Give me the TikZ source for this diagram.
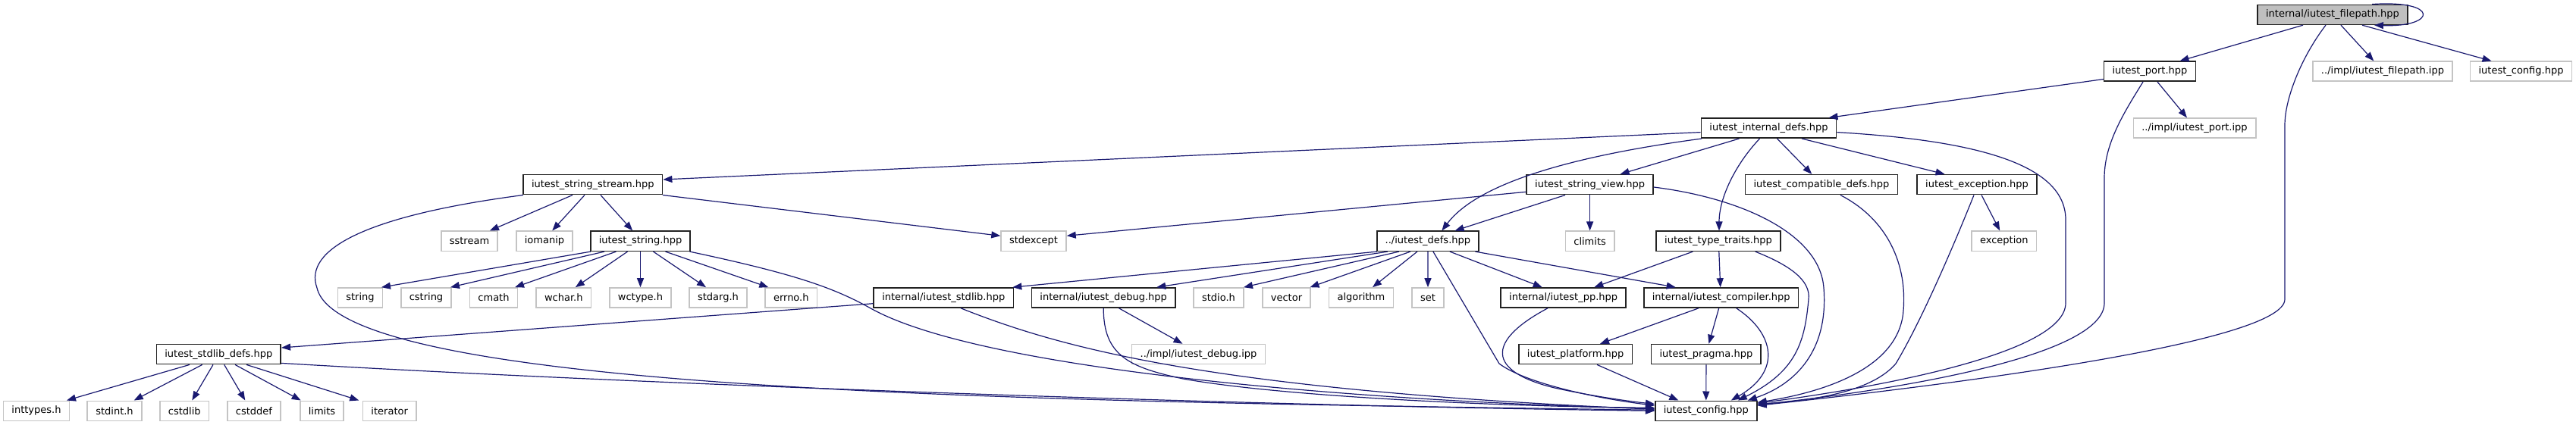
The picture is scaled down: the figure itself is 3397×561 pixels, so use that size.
\documentclass[tikz,border=0pt]{standalone}
\usepackage{fontspec}
\setmainfont{DejaVu Sans}
\usetikzlibrary{arrows.meta}
\definecolor{edgecol}{HTML}{191970}
\definecolor{docb}{HTML}{222222}
\definecolor{extb}{HTML}{C4C4C4}
\definecolor{mainfill}{HTML}{BFBFBF}
\tikzset{
  box/.style={minimum height=26pt, inner xsep=11pt, inner ysep=0pt, line width=1.6pt,
    font=\fontsize{13}{15}\selectfont, anchor=center},
  doc/.style={box, draw=docb, fill=white},
  ext/.style={box, draw=extb, fill=white},
  mainnode/.style={box, draw=docb, fill=mainfill},
  e/.style={draw=edgecol, line width=1.2pt, -{Triangle[length=12pt,width=9pt]}}
}
\begin{document}
\begin{tikzpicture}[x=1pt,y=-1pt]
\useasboundingbox (0,0) rectangle (3397,561);
% row 0
\node[mainnode] (fp) at (3076,19.4) {internal/iutest\_filepath.hpp};
% row 1
\node[doc] (port) at (2835,94.3) {iutest\_port.hpp};
\node[ext] (fpipp) at (3142,94.3) {../impl/iutest\_filepath.ipp};
\node[ext] (cfgtop) at (3324.5,94.3) {iutest\_config.hpp};
% row 2
\node[doc] (idefs) at (2332.5,169.2) {iutest\_internal\_defs.hpp};
\node[ext] (portipp) at (2894,169.2) {../impl/iutest\_port.ipp};
% row 3
\node[doc] (ss) at (781.8,243.7) {iutest\_string\_stream.hpp};
\node[doc] (sv) at (2096.6,243.7) {iutest\_string\_view.hpp};
\node[doc] (compat) at (2401.9,243.7) {iutest\_compatible\_defs.hpp};
\node[doc] (exch) at (2607,243.7) {iutest\_exception.hpp};
% row 4
\node[ext] (sstream) at (619,318.3) {sstream};
\node[ext] (iomanip) at (718,318.3) {iomanip};
\node[doc] (str) at (844.5,318.3) {iutest\_string.hpp};
\node[ext] (stdexcept) at (1363,318.3) {stdexcept};
\node[doc] (defs) at (1882.9,318.3) {../iutest\_defs.hpp};
\node[ext] (climits) at (2096.6,318.3) {climits};
\node[doc] (tt) at (2266,318.3) {iutest\_type\_traits.hpp};
\node[ext] (exc) at (2642.8,318.3) {exception};
% row 5
\node[ext] (string) at (475,393) {string};
\node[ext] (cstring) at (562,393) {cstring};
\node[ext] (cmath) at (651,393) {cmath};
\node[ext] (wchar) at (743.3,393) {wchar.h};
\node[ext] (wctype) at (844.5,393) {wctype.h};
\node[ext] (stdarg) at (947,393) {stdarg.h};
\node[ext] (errno) at (1043.3,393) {errno.h};
\node[doc] (istdlib) at (1244.3,393) {internal/iutest\_stdlib.hpp};
\node[doc] (idebug) at (1455.2,393) {internal/iutest\_debug.hpp};
\node[ext] (stdio) at (1607,393) {stdio.h};
\node[ext] (vector) at (1696.5,393) {vector};
\node[ext] (algorithm) at (1795,393) {algorithm};
\node[ext] (set) at (1883,393) {set};
\node[doc] (pp) at (2061.7,393) {internal/iutest\_pp.hpp};
\node[doc] (comp) at (2269.7,393) {internal/iutest\_compiler.hpp};
% row 6
\node[doc] (sd) at (288.3,467.6) {iutest\_stdlib\_defs.hpp};
\node[ext] (dbgipp) at (1580.5,467.6) {../impl/iutest\_debug.ipp};
\node[doc] (plat) at (2077.6,467.6) {iutest\_platform.hpp};
\node[doc] (prag) at (2249.9,467.6) {iutest\_pragma.hpp};
% row 7
\node[ext] (inttypes) at (48,542.3) {inttypes.h};
\node[ext] (stdint) at (151,542.3) {stdint.h};
\node[ext] (cstdlib) at (243.3,542.3) {cstdlib};
\node[ext] (cstddef) at (335,542.3) {cstddef};
\node[ext] (limits) at (424.5,542.3) {limits};
\node[ext] (iterator) at (513.7,542.3) {iterator};
\node[doc] (cfg) at (2249.8,542.3) {iutest\_config.hpp};

% ---- edges from filepath
\draw[e] ([xshift=52pt]fp.north) .. controls +(90,-6) and +(82,3) .. ([xshift=55pt]fp.south);
\draw[e] ([xshift=-39pt]fp.south) -- ([xshift=39.5pt]port.north);
\draw[e] ([xshift=11pt]fp.south) -- ([xshift=-11.7pt]fpipp.north);
\draw[e] ([xshift=39pt]fp.south) -- ([xshift=-39pt]cfgtop.north);
\draw[e] ([xshift=-9pt]fp.south) .. controls (3035,75) and (3013,130) .. (3013,165) -- (3013,395)
   .. controls (3013,450) and (2600,505) .. ([yshift=7pt]cfg.east);
% ---- port
\draw[e] ([yshift=-10.2pt]port.west) -- ([xshift=79pt]idefs.north);
\draw[e] ([xshift=10pt]port.south) -- ([xshift=-10pt]portipp.north);
\draw[e] ([xshift=-9pt]port.south) .. controls (2800,150) and (2775,190) .. (2775,235) -- (2775,400)
   .. controls (2775,470) and (2500,515) .. ([yshift=8pt]cfg.east);
% ---- internal defs
\draw[e] ([yshift=-5.4pt]idefs.west) -- ([yshift=6.7pt]ss.east);
\draw[e] ([xshift=-88.5pt]idefs.south) .. controls (2080,205) and (1950,240) .. ([xshift=18.5pt]defs.north);
\draw[e] ([xshift=-39pt]idefs.south) -- ([xshift=40pt]sv.north);
\draw[e] ([xshift=-12pt]idefs.south) .. controls (2290,215) and (2267,260) .. ([xshift=1pt]tt.north);
\draw[e] ([xshift=11pt]idefs.south) -- ([xshift=-12.6pt]compat.north);
\draw[e] ([xshift=43.5pt]idefs.south) -- ([xshift=-42.5pt]exch.north);
\draw[e] ([yshift=-5.4pt]idefs.east) .. controls (2600,185) and (2724,215) .. (2724,290) -- (2724,400)
   .. controls (2724,470) and (2450,515) .. ([yshift=10pt]cfg.east);
% ---- string stream
\draw[e] ([xshift=-26.8pt]ss.south) -- ([xshift=26.9pt]sstream.north);
\draw[e] ([xshift=-10.8pt]ss.south) -- ([xshift=10.2pt]iomanip.north);
\draw[e] ([xshift=10.2pt]ss.south) -- ([xshift=-10.3pt]str.north);
\draw[e] ([xshift=92pt]ss.south) -- ([yshift=7pt]stdexcept.west);
\draw[e] ([xshift=-92pt]ss.south) .. controls (480,285) and (400,330) .. (418,380)
   .. controls (450,520) and (1400,530) .. ([yshift=1pt]cfg.west);
% ---- iutest_string
\draw[e] ([xshift=-65.5pt]str.south) -- ([xshift=28pt]string.north);
\draw[e] ([xshift=-47.5pt]str.south) -- ([xshift=32pt]cstring.north);
\draw[e] ([xshift=-32pt]str.south) -- ([xshift=28pt]cmath.north);
\draw[e] ([xshift=-17pt]str.south) -- ([xshift=15.5pt]wchar.north);
\draw[e] (str.south) -- (wctype.north);
\draw[e] ([xshift=17pt]str.south) -- ([xshift=-16pt]stdarg.north);
\draw[e] ([xshift=33pt]str.south) -- ([xshift=-30pt]errno.north);
\draw[e] ([xshift=65pt]str.south) .. controls (1050,362) and (1100,380) .. (1150,408)
   .. controls (1300,490) and (1800,530) .. ([yshift=3pt]cfg.west);
% ---- string view
\draw[e] ([yshift=-9.6pt]sv.west) -- ([yshift=7pt]stdexcept.east);
\draw[e] ([xshift=-32.6pt]sv.south) -- ([xshift=35.7pt]defs.north);
\draw[e] (sv.south) -- (climits.north);
\draw[e] ([yshift=-3.3pt]sv.east) .. controls (2300,262) and (2400,310) .. (2405,380)
   .. controls (2412,470) and (2360,510) .. ([xshift=55pt]cfg.north);
% ---- ../iutest_defs
\draw[e] ([xshift=-67pt]defs.south) -- ([xshift=91pt]istdlib.north);
\draw[e] ([xshift=-53pt]defs.south) -- ([xshift=70pt]idebug.north);
\draw[e] ([xshift=-38pt]defs.south) -- ([xshift=33pt]stdio.north);
\draw[e] ([xshift=-23pt]defs.south) -- ([xshift=31pt]vector.north);
\draw[e] ([xshift=-14pt]defs.south) -- ([xshift=15pt]algorithm.north);
\draw[e] (defs.south) -- (set.north);
\draw[e] ([xshift=29pt]defs.south) -- ([xshift=-28pt]pp.north);
\draw[e] ([xshift=62.5pt]defs.south) -- ([xshift=-60pt]comp.north);
\draw[e] ([xshift=7pt]defs.south) -- (1977,480) .. controls (2010,505) and (2100,525) .. ([yshift=7pt]cfg.west);
% ---- internal stdlib / debug
\draw[e] ([yshift=-7.7pt]istdlib.west) -- ([yshift=8.6pt]sd.east);
\draw[e] ([xshift=22.7pt]istdlib.south) .. controls (1400,460) and (1600,515) .. ([yshift=2pt]cfg.west);
\draw[e] ([xshift=20.3pt]idebug.south) -- ([xshift=-21pt]dbgipp.north);
\draw[e] (idebug.south) .. controls (1455,470) and (1490,485) .. (1560,500)
   .. controls (1700,525) and (2000,537) .. ([yshift=4pt]cfg.west);
% ---- stdlib defs
\draw[e] ([xshift=-38.3pt]sd.south) -- ([xshift=40pt]inttypes.north);
\draw[e] ([xshift=-21.6pt]sd.south) -- ([xshift=25.7pt]stdint.north);
\draw[e] ([xshift=-7.3pt]sd.south) -- ([xshift=10pt]cstdlib.north);
\draw[e] ([xshift=7.4pt]sd.south) -- ([xshift=-11.7pt]cstddef.north);
\draw[e] ([xshift=21.7pt]sd.south) -- ([xshift=-27.8pt]limits.north);
\draw[e] ([xshift=36.7pt]sd.south) -- ([xshift=-40.4pt]iterator.north);
\draw[e] ([yshift=-11.8pt]sd.east) .. controls (800,505) and (1600,535) .. ([yshift=0pt]cfg.west);
% ---- type traits
\draw[e] ([xshift=-33.6pt]tt.south) -- ([xshift=40.6pt]pp.north);
\draw[e] ([xshift=0.8pt]tt.south) -- ([xshift=-1pt]comp.north);
\draw[e] ([xshift=48.7pt]tt.south) .. controls (2360,350) and (2388,370) .. (2385,395)
   .. controls (2380,450) and (2370,490) .. ([xshift=42pt]cfg.north);
% ---- pp
\draw[e] ([xshift=-20.7pt]pp.south) .. controls (1960,450) and (1960,490) .. (2050,512)
   .. controls (2100,523) and (2150,530) .. ([yshift=9pt]cfg.west);
% ---- compiler
\draw[e] ([xshift=-29.7pt]comp.south) -- ([xshift=32.4pt]plat.north);
\draw[e] ([xshift=-3pt]comp.south) -- ([xshift=3.5pt]prag.north);
\draw[e] ([xshift=20pt]comp.south) .. controls (2340,440) and (2350,490) .. ([xshift=33pt]cfg.north);
% ---- platform / pragma
\draw[e] ([xshift=28.4pt]plat.south) -- ([xshift=-36.5pt]cfg.north);
\draw[e] (prag.south) -- (cfg.north);
% ---- compatible / exception
\draw[e] ([xshift=25pt]compat.south) .. controls (2490,290) and (2515,350) .. (2510,410)
   .. controls (2505,480) and (2420,515) .. ([yshift=11pt]cfg.east);
\draw[e] ([xshift=6pt]exch.south) -- ([xshift=-5.6pt]exc.north);
\draw[e] ([xshift=-4pt]exch.south) .. controls (2570,340) and (2530,430) .. (2500,480)
   .. controls (2470,515) and (2400,528) .. ([yshift=9pt]cfg.east);
\end{tikzpicture}
\end{document}
